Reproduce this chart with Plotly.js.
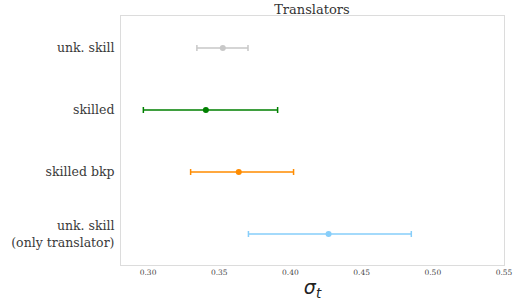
<!DOCTYPE html>
<html><head><meta charset="utf-8">
<script src="https://cdn.plot.ly/plotly-3.0.1.min.js"></script>
<style>html,body{margin:0;padding:0;background:#fff}</style>
</head><body>
<div id="chart" style="width:513px;height:301px"></div>
<script>
const categories = ["unk. skill<br>(only translator)", "skilled bkp", "skilled", "unk. skill"];
const centers = [0.4268, 0.3637, 0.3406, 0.3525];
const lowers  = [0.3705, 0.3299, 0.2967, 0.3343];
const uppers  = [0.4849, 0.4022, 0.3910, 0.3702];
const colors  = ["#87cefa", "#ff8c00", "#008000", "#c8c8c8"];
const tickVals = [0.30, 0.35, 0.40, 0.45, 0.50, 0.55];
const tickText = ["0.30", "0.35", "0.40", "0.45", "0.50", "0.55"];

const traces = categories.map((c, i) => ({
  type: "scatter", mode: "markers",
  x: [centers[i]], y: [i],
  marker: {color: colors[i], size: 6},
  error_x: {type: "data", symmetric: false,
    array: [uppers[i] - centers[i]], arrayminus: [centers[i] - lowers[i]],
    color: colors[i], thickness: 1.5, width: 3},
  showlegend: false, hoverinfo: "skip"
}));

const layout = {
  width: 513, height: 301,
  margin: {l: 121, r: 9, t: 16, b: 36},
  paper_bgcolor: "#fff", plot_bgcolor: "#fff",
  title: {text: "Translators", font: {family: "DejaVu Serif", size: 13, color: "#333"}, x: 0.608, xanchor: "center", y: 0.968, yanchor: "middle"},
  xaxis: {range: [0.281, 0.55], tickvals: tickVals, ticktext: tickText, showgrid: false, zeroline: false,
    showline: true, mirror: true, linecolor: "#dcdcdc", linewidth: 1, ticks: "",
    tickfont: {family: "DejaVu Serif", size: 7.5, color: "#444"},
    title: {text: "<i>σ</i><sub><i>t</i></sub>", font: {family: "DejaVu Sans", size: 19, color: "#222"}, standoff: 4}},
  yaxis: {range: [-0.5, 3.516], tickvals: [0, 1, 2, 3], ticktext: categories, showgrid: false, zeroline: false,
    showline: true, mirror: true, linecolor: "#dcdcdc", linewidth: 1, ticks: "", ticklabelstandoff: 3,
    tickfont: {family: "DejaVu Serif", size: 12.5, color: "#3a3a3a"}}
};
Plotly.newPlot("chart", traces, layout, {staticPlot: true, displayModeBar: false});
</script>
</body></html>
